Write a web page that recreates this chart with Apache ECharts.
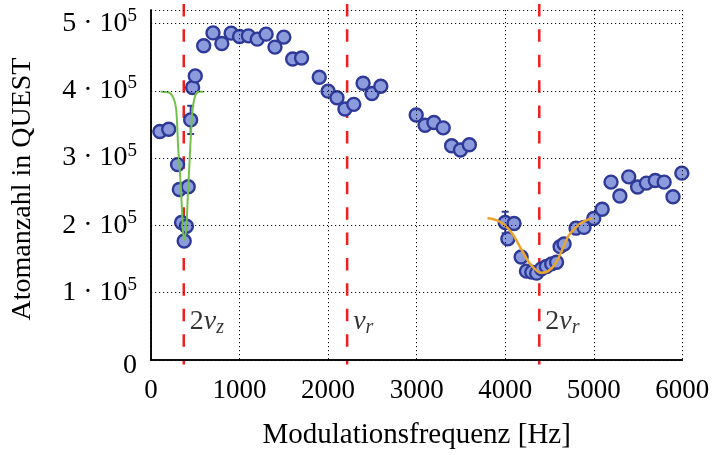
<!DOCTYPE html>
<html><head><meta charset="utf-8">
<script src="https://cdn.jsdelivr.net/npm/echarts@6/dist/echarts.min.js"></script>
<style>html,body{margin:0;padding:0;background:#fff}#c{width:716px;height:455px}</style>
</head><body><div id="c"></div>
<script>
// Measured data: modulation frequency [Hz] vs atom number
const freq = [100,200,300,320,420,345,400,375,448,470,500,595,700,800,905,1000,1100,1200,1300,1400,1500,1600,1700,1900,2000,2100,2190,2290,2395,2495,2595,2995,3095,3195,3300,3395,3495,3595,
  4000,4030,4100,4180,4240,4300,4355,4410,4465,4525,4580,4620,4665,4800,4890,5000,5095,5195,5295,5395,5495,5595,5695,5795,5895,5995];
const atoms = [339500,342900,290300,253400,257400,204300,198800,176700,356700,404900,422100,466800,486000,470200,485600,480600,481600,476700,484100,464900,479700,447200,448700,420100,399400,389700,372900,379800,411200,396000,406800,364000,348800,352800,344900,318300,312000,319800,
  204300,180000,202800,153000,132000,130500,129000,135400,139000,142800,145300,168400,172300,195900,197000,210200,223900,264300,243700,272100,257000,262800,266700,264300,242600,277600];
const errFreq = [448,4000,4800];
const errAtoms = [356700,204300,195900];
const errSize = [21000,16000,9000];
// Fit near 2 nu_z (green)
const fitZFreq = [110,200,255,285,307,333,352,372,397,415,434,453,471,502,540,595];
const fitZAtoms = [398400,397400,388600,371800,315200,266400,217600,178400,193500,242000,290800,339700,373900,393400,398400,398400];
// Fit near 2 nu_r (orange)
const fitRFreq = [3800,3900,3995,4090,4185,4278,4372,4410,4485,4560,4636,4710,4805,4898,4985];
const fitRAtoms = [211100,207800,200400,185800,163800,143300,130900,129500,132000,141800,161300,183300,198000,206700,210700];
// Resonance markers
const resFreq = [370, 2215, 4385];
const resLabels = ['{n|2}{g|ν}{s|z}', '{g|ν}{s|r}', '{n|2}{g|ν}{s|r}'];
const xTicks = [0,1000,2000,3000,4000,5000,6000];
const yTickMantissa = [0,1,2,3,4,5];

const FONT = 'Liberation Serif';
const navy = '#2f3a98';
const chart = echarts.init(document.getElementById('c'));

const scatterData = freq.map((f,i)=>[f, atoms[i]]);
const errData = errFreq.map((f,i)=>[f, errAtoms[i], errSize[i]]);

const resSeries = resFreq.map((f)=>({
  type:'line', data:[[f, 529000],[f,-6500]], clip:false, symbol:'none', silent:true, z:3,
  lineStyle:{color:'#f01e1e', width:2.5, type:[12.5,12.9]}
}));

const labelRich = {
  n:{fontFamily:FONT, fontSize:28, color:'#000', lineHeight:32},
  g:{fontFamily:FONT, fontSize:28, fontStyle:'italic', color:'#000', lineHeight:32},
  s:{fontFamily:FONT, fontSize:20, fontStyle:'italic', color:'#000', lineHeight:20, verticalAlign:'bottom', padding:[10,0,0,0]}
};

const option = {
  animation:false,
  grid:{left:151, right:33.7, top:10, bottom:91.5, show:false},
  xAxis:[{
    type:'value', min:0, max:6000, interval:1000,
    name:'Modulationsfrequenz [Hz]', nameLocation:'middle', nameGap:61,
    nameTextStyle:{fontFamily:FONT, fontSize:29, color:'#000'},
    axisLine:{show:true, lineStyle:{color:'#000', width:1.5}},
    axisTick:{show:false},
    axisLabel:{fontFamily:FONT, fontSize:27, color:'#000', margin:17,
      formatter:(v)=> xTicks.includes(v) ? String(v) : ''},
    splitLine:{show:true, lineStyle:{color:'#111', width:1, type:[1.2,2.8]}},
    z:10
  },{
    type:'value', min:0, max:6000, position:'top', axisLine:{show:true, lineStyle:{color:'#000', width:1.5}},
    axisTick:{show:false}, axisLabel:{show:false}, splitLine:{show:false}, z:10
  }],
  yAxis:[{
    type:'value', min:0, max:520000, interval:100000,
    name:'Atomanzahl in QUEST', nameLocation:'middle', nameGap:114,
    nameTextStyle:{fontFamily:FONT, fontSize:28, color:'#000', padding:[0,8,0,0]},
    axisLine:{show:true, lineStyle:{color:'#000', width:1.5}},
    axisTick:{show:false},
    axisLabel:{margin:14, fontFamily:FONT, fontSize:28, color:'#000',
      formatter:(v)=>{
        const m = Math.round(v/100000);
        if (Math.abs(v - m*100000) > 1 || !yTickMantissa.includes(m)) return '';
        if (m===0) return '{z|0}';
        return '{a|' + m + ' · 10}{p|5}';
      },
      rich:{
        a:{fontFamily:FONT, fontSize:28, color:'#000', lineHeight:34},
        z:{fontFamily:FONT, fontSize:28, color:'#000', lineHeight:30, padding:[12,0,0,0]},
        p:{fontFamily:FONT, fontSize:19, color:'#000', lineHeight:19, verticalAlign:'top'}
      }
    },
    splitLine:{show:true, lineStyle:{color:'#111', width:1, type:[1.2,2.8]}},
    z:10
  },{
    type:'value', min:0, max:520000, position:'right', axisLine:{show:true, lineStyle:{color:'#000', width:1.5}},
    axisTick:{show:false}, axisLabel:{show:false}, splitLine:{show:false}, z:10
  }],
  series:[
    ...resSeries,
    {
      type:'scatter', data:resFreq.map((f)=>[f, 56800]), symbolSize:0, silent:true, z:4,
      label:{show:true, position:'right', distance:6,
        formatter:(p)=>resLabels[p.dataIndex], rich:labelRich}
    },
    {
      type:'custom', data:errData, z:4, silent:true,
      renderItem:(params, api)=>{
        const x=api.value(0), y=api.value(1), e=api.value(2);
        const t=api.coord([x,y+e]), b=api.coord([x,y-e]);
        const w=3.5;
        const st={stroke:navy, lineWidth:2};
        return {type:'group', children:[
          {type:'line', shape:{x1:t[0],y1:t[1],x2:b[0],y2:b[1]}, style:st},
          {type:'line', shape:{x1:t[0]-w,y1:t[1],x2:t[0]+w,y2:t[1]}, style:st},
          {type:'line', shape:{x1:b[0]-w,y1:b[1],x2:b[0]+w,y2:b[1]}, style:st}
        ]};
      }
    },
    {
      type:'scatter', data:scatterData, symbol:'circle', symbolSize:13, z:5,
      itemStyle:{color:'#8b9bdc', borderColor:navy, borderWidth:2.4, opacity:1}
    },
    {
      type:'line', data:fitZFreq.map((f,i)=>[f, fitZAtoms[i]]), symbol:'none', smooth:0.35, z:6,
      lineStyle:{color:'#72c14a', width:2}
    },
    {
      type:'line', data:fitRFreq.map((f,i)=>[f, fitRAtoms[i]]), symbol:'none', smooth:0.35, z:6,
      lineStyle:{color:'#e9a52c', width:2.5}
    }
  ]
};
chart.setOption(option);
</script></body></html>
